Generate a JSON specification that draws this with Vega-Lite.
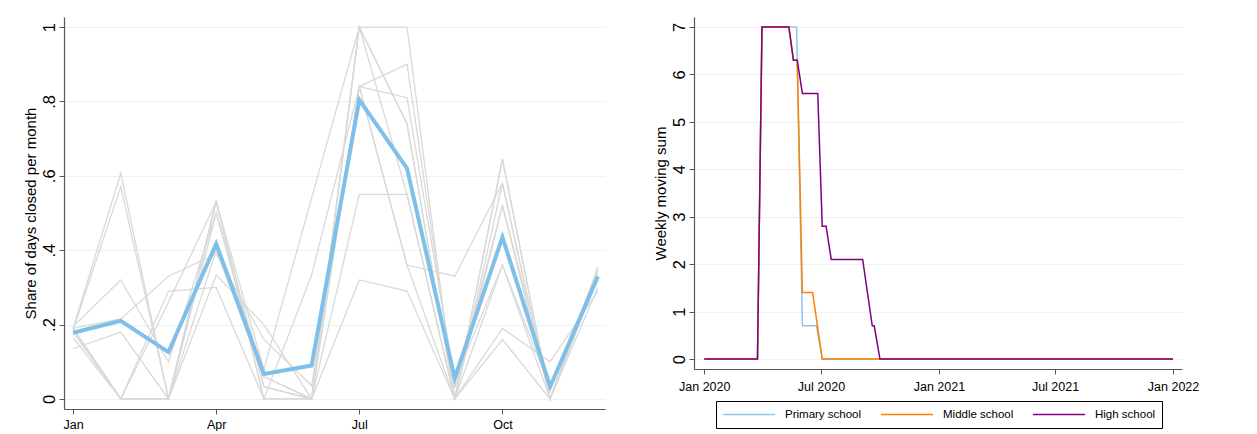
{
  "$schema": "https://vega.github.io/schema/vega-lite/v6.json",
  "padding": {"left": 23, "top": 17, "right": 0, "bottom": 0},
  "spacing": 46,
  "resolve": {"legend": {"color": "independent"}, "scale": {"color": "independent"}},
  "datasets": {
    "closures": [
      {"unit": "a", "month": 1, "share": 0.19}, {"unit": "a", "month": 2, "share": 0.607}, {"unit": "a", "month": 3, "share": 0}, {"unit": "a", "month": 4, "share": 0.535}, {"unit": "a", "month": 5, "share": 0}, {"unit": "a", "month": 6, "share": 0}, {"unit": "a", "month": 7, "share": 1}, {"unit": "a", "month": 8, "share": 1}, {"unit": "a", "month": 9, "share": 0}, {"unit": "a", "month": 10, "share": 0.645}, {"unit": "a", "month": 11, "share": 0}, {"unit": "a", "month": 12, "share": 0.355},
      {"unit": "b", "month": 1, "share": 0.185}, {"unit": "b", "month": 2, "share": 0.571}, {"unit": "b", "month": 3, "share": 0}, {"unit": "b", "month": 4, "share": 0.53}, {"unit": "b", "month": 5, "share": 0.033}, {"unit": "b", "month": 6, "share": 0}, {"unit": "b", "month": 7, "share": 1}, {"unit": "b", "month": 8, "share": 0.74}, {"unit": "b", "month": 9, "share": 0}, {"unit": "b", "month": 10, "share": 0.58}, {"unit": "b", "month": 11, "share": 0}, {"unit": "b", "month": 12, "share": 0.35},
      {"unit": "c", "month": 1, "share": 0.195}, {"unit": "c", "month": 2, "share": 0.32}, {"unit": "c", "month": 3, "share": 0.1}, {"unit": "c", "month": 4, "share": 0.5}, {"unit": "c", "month": 5, "share": 0.06}, {"unit": "c", "month": 6, "share": 0}, {"unit": "c", "month": 7, "share": 0.84}, {"unit": "c", "month": 8, "share": 0.9}, {"unit": "c", "month": 9, "share": 0.03}, {"unit": "c", "month": 10, "share": 0.52}, {"unit": "c", "month": 11, "share": 0.03}, {"unit": "c", "month": 12, "share": 0.34},
      {"unit": "d", "month": 1, "share": 0.19}, {"unit": "d", "month": 2, "share": 0.215}, {"unit": "d", "month": 3, "share": 0.33}, {"unit": "d", "month": 4, "share": 0.39}, {"unit": "d", "month": 5, "share": 0.16}, {"unit": "d", "month": 6, "share": 0.036}, {"unit": "d", "month": 7, "share": 0.84}, {"unit": "d", "month": 8, "share": 0.81}, {"unit": "d", "month": 9, "share": 0.05}, {"unit": "d", "month": 10, "share": 0.36}, {"unit": "d", "month": 11, "share": 0}, {"unit": "d", "month": 12, "share": 0.33},
      {"unit": "e", "month": 1, "share": 0.135}, {"unit": "e", "month": 2, "share": 0.18}, {"unit": "e", "month": 3, "share": 0}, {"unit": "e", "month": 4, "share": 0.333}, {"unit": "e", "month": 5, "share": 0.2}, {"unit": "e", "month": 6, "share": 0}, {"unit": "e", "month": 7, "share": 0.55}, {"unit": "e", "month": 8, "share": 0.55}, {"unit": "e", "month": 9, "share": 0}, {"unit": "e", "month": 10, "share": 0.19}, {"unit": "e", "month": 11, "share": 0.1}, {"unit": "e", "month": 12, "share": 0.29},
      {"unit": "f", "month": 1, "share": 0.165}, {"unit": "f", "month": 2, "share": 0}, {"unit": "f", "month": 3, "share": 0.29}, {"unit": "f", "month": 4, "share": 0.3}, {"unit": "f", "month": 5, "share": 0}, {"unit": "f", "month": 6, "share": 0.333}, {"unit": "f", "month": 7, "share": 0.84}, {"unit": "f", "month": 8, "share": 0.36}, {"unit": "f", "month": 9, "share": 0.33}, {"unit": "f", "month": 10, "share": 0.58}, {"unit": "f", "month": 11, "share": 0}, {"unit": "f", "month": 12, "share": 0.33},
      {"unit": "g", "month": 1, "share": 0.19}, {"unit": "g", "month": 2, "share": 0}, {"unit": "g", "month": 3, "share": 0.26}, {"unit": "g", "month": 4, "share": 0.53}, {"unit": "g", "month": 5, "share": 0.08}, {"unit": "g", "month": 6, "share": 0.54}, {"unit": "g", "month": 7, "share": 1}, {"unit": "g", "month": 8, "share": 0.55}, {"unit": "g", "month": 9, "share": 0}, {"unit": "g", "month": 10, "share": 0.645}, {"unit": "g", "month": 11, "share": 0}, {"unit": "g", "month": 12, "share": 0.35},
      {"unit": "h", "month": 1, "share": 0.19}, {"unit": "h", "month": 2, "share": 0}, {"unit": "h", "month": 3, "share": 0}, {"unit": "h", "month": 4, "share": 0.5}, {"unit": "h", "month": 5, "share": 0.033}, {"unit": "h", "month": 6, "share": 0}, {"unit": "h", "month": 7, "share": 0.32}, {"unit": "h", "month": 8, "share": 0.29}, {"unit": "h", "month": 9, "share": 0}, {"unit": "h", "month": 10, "share": 0.16}, {"unit": "h", "month": 11, "share": 0}, {"unit": "h", "month": 12, "share": 0.3},
      {"unit": "i", "month": 1, "share": 0.18}, {"unit": "i", "month": 2, "share": 0}, {"unit": "i", "month": 3, "share": 0}, {"unit": "i", "month": 4, "share": 0.53}, {"unit": "i", "month": 5, "share": 0}, {"unit": "i", "month": 6, "share": 0}, {"unit": "i", "month": 7, "share": 1}, {"unit": "i", "month": 8, "share": 0.74}, {"unit": "i", "month": 9, "share": 0}, {"unit": "i", "month": 10, "share": 0.52}, {"unit": "i", "month": 11, "share": 0}, {"unit": "i", "month": 12, "share": 0.35},
      {"unit": "j", "month": 1, "share": 0.19}, {"unit": "j", "month": 2, "share": 0}, {"unit": "j", "month": 3, "share": 0}, {"unit": "j", "month": 4, "share": 0.4}, {"unit": "j", "month": 5, "share": 0.06}, {"unit": "j", "month": 6, "share": 0}, {"unit": "j", "month": 7, "share": 0.84}, {"unit": "j", "month": 8, "share": 0.36}, {"unit": "j", "month": 9, "share": 0}, {"unit": "j", "month": 10, "share": 0.36}, {"unit": "j", "month": 11, "share": 0.03}, {"unit": "j", "month": 12, "share": 0.33},
      {"unit": "mean", "month": 1, "share": 0.178}, {"unit": "mean", "month": 2, "share": 0.21}, {"unit": "mean", "month": 3, "share": 0.126}, {"unit": "mean", "month": 4, "share": 0.417}, {"unit": "mean", "month": 5, "share": 0.067}, {"unit": "mean", "month": 6, "share": 0.09}, {"unit": "mean", "month": 7, "share": 0.804}, {"unit": "mean", "month": 8, "share": 0.62}, {"unit": "mean", "month": 9, "share": 0.056}, {"unit": "mean", "month": 10, "share": 0.435}, {"unit": "mean", "month": 11, "share": 0.033}, {"unit": "mean", "month": 12, "share": 0.329}
    ],
    "moving": [
      {"level": "Primary school", "date": "2020-01-01", "sum": 0},
      {"level": "Primary school", "date": "2020-03-24", "sum": 0},
      {"level": "Primary school", "date": "2020-03-31", "sum": 7},
      {"level": "Primary school", "date": "2020-05-24", "sum": 7},
      {"level": "Primary school", "date": "2020-06-02", "sum": 0.7},
      {"level": "Primary school", "date": "2020-06-24", "sum": 0.7},
      {"level": "Primary school", "date": "2020-07-03", "sum": 0},
      {"level": "Primary school", "date": "2022-01-01", "sum": 0},
      {"level": "Middle school", "date": "2020-01-01", "sum": 0},
      {"level": "Middle school", "date": "2020-03-24", "sum": 0},
      {"level": "Middle school", "date": "2020-03-31", "sum": 7},
      {"level": "Middle school", "date": "2020-05-12", "sum": 7},
      {"level": "Middle school", "date": "2020-05-19", "sum": 6.3},
      {"level": "Middle school", "date": "2020-05-25", "sum": 6.3},
      {"level": "Middle school", "date": "2020-06-02", "sum": 1.4},
      {"level": "Middle school", "date": "2020-06-18", "sum": 1.4},
      {"level": "Middle school", "date": "2020-07-03", "sum": 0},
      {"level": "Middle school", "date": "2022-01-01", "sum": 0},
      {"level": "High school", "date": "2020-01-01", "sum": 0},
      {"level": "High school", "date": "2020-03-24", "sum": 0},
      {"level": "High school", "date": "2020-03-31", "sum": 7},
      {"level": "High school", "date": "2020-05-12", "sum": 7},
      {"level": "High school", "date": "2020-05-19", "sum": 6.3},
      {"level": "High school", "date": "2020-05-25", "sum": 6.3},
      {"level": "High school", "date": "2020-06-02", "sum": 5.6},
      {"level": "High school", "date": "2020-06-26", "sum": 5.6},
      {"level": "High school", "date": "2020-07-03", "sum": 2.8},
      {"level": "High school", "date": "2020-07-09", "sum": 2.8},
      {"level": "High school", "date": "2020-07-17", "sum": 2.1},
      {"level": "High school", "date": "2020-09-04", "sum": 2.1},
      {"level": "High school", "date": "2020-09-19", "sum": 0.7},
      {"level": "High school", "date": "2020-09-22", "sum": 0.7},
      {"level": "High school", "date": "2020-10-01", "sum": 0},
      {"level": "High school", "date": "2022-01-01", "sum": 0}
    ]
  },
  "hconcat": [
    {
      "width": 541,
      "height": 392,
      "data": {"name": "closures"},
      "encoding": {
        "x": {
          "field": "month",
          "type": "quantitative",
          "scale": {"domain": [0.81, 12.15], "nice": false, "zero": false},
          "axis": {
            "values": [1, 4, 7, 10],
            "labelExpr": "datum.value == 1 ? 'Jan' : datum.value == 4 ? 'Apr' : datum.value == 7 ? 'Jul' : 'Oct'",
            "title": null,
            "grid": false,
            "labelPadding": 4
          }
        },
        "y": {
          "field": "share",
          "type": "quantitative",
          "scale": {"domain": [-0.027, 1.027], "nice": false, "zero": false},
          "axis": {
            "values": [0, 0.2, 0.4, 0.6, 0.8, 1],
            "labelExpr": "datum.value == 0 ? '0' : datum.value == 1 ? '1' : replace(format(datum.value, '.1f'), '0.', '.')",
            "title": "Share of days closed per month",
            "labelAngle": 270,
            "labelFontSize": 16.5,
            "titlePadding": 3,
            "grid": true
          }
        }
      },
      "layer": [
        {
          "transform": [{"filter": "datum.unit != 'mean'"}],
          "mark": {"type": "line", "color": "#d9d9d9", "strokeWidth": 1.3},
          "encoding": {"detail": {"field": "unit", "type": "nominal"}}
        },
        {
          "transform": [{"filter": "datum.unit == 'mean'"}],
          "mark": {"type": "line", "color": "#7fbfea", "strokeWidth": 4}
        }
      ]
    },
    {
      "width": 488,
      "height": 352,
      "data": {"name": "moving"},
      "mark": {"type": "line", "strokeWidth": 1.5},
      "encoding": {
        "x": {
          "field": "date",
          "type": "temporal",
          "scale": {"domain": [{"year": 2019, "month": 12, "date": 16}, {"year": 2022, "month": 1, "date": 15}]},
          "axis": {
            "values": [
              {"year": 2020, "month": 1, "date": 1},
              {"year": 2020, "month": 7, "date": 1},
              {"year": 2021, "month": 1, "date": 1},
              {"year": 2021, "month": 7, "date": 1},
              {"year": 2022, "month": 1, "date": 1}
            ],
            "format": "%b %Y",
            "title": null,
            "grid": false,
            "labelPadding": 6
          }
        },
        "y": {
          "field": "sum",
          "type": "quantitative",
          "scale": {"domain": [-0.21, 7.21], "nice": false, "zero": false},
          "axis": {
            "values": [0, 1, 2, 3, 4, 5, 6, 7],
            "title": "Weekly moving sum",
            "labelAngle": 270,
            "labelFontSize": 16.5,
            "titlePadding": 3,
            "grid": true
          }
        },
        "color": {
          "field": "level",
          "type": "nominal",
          "sort": ["Primary school", "Middle school", "High school"],
          "scale": {
            "domain": ["Primary school", "Middle school", "High school"],
            "range": ["#8cc6ef", "#ff8000", "#800080"]
          },
          "legend": {
            "title": null,
            "orient": "none",
            "legendX": 22,
            "legendY": 384,
            "direction": "horizontal",
            "strokeColor": "black",
            "padding": 6,
            "symbolType": "stroke",
            "symbolSize": 2704,
            "symbolStrokeWidth": 1.5,
            "labelFontSize": 11.5,
            "labelOffset": 9,
            "columnPadding": 18,
            "clipHeight": 15,
            "labelColor": "black"
          }
        }
      }
    }
  ],
  "config": {
    "font": "Liberation Sans",
    "view": {"stroke": null},
    "axis": {
      "labelFont": "Liberation Sans",
      "titleFont": "Liberation Sans",
      "labelFontSize": 12.5,
      "titleFontSize": 15,
      "titleFontWeight": "normal",
      "labelColor": "black",
      "titleColor": "black",
      "domainColor": "#555555",
      "domainWidth": 1.2,
      "tickColor": "#555555",
      "tickSize": 5,
      "gridColor": "#eaf2f3",
      "gridWidth": 1
    },
    "legend": {"labelFont": "Liberation Sans"}
  }
}
